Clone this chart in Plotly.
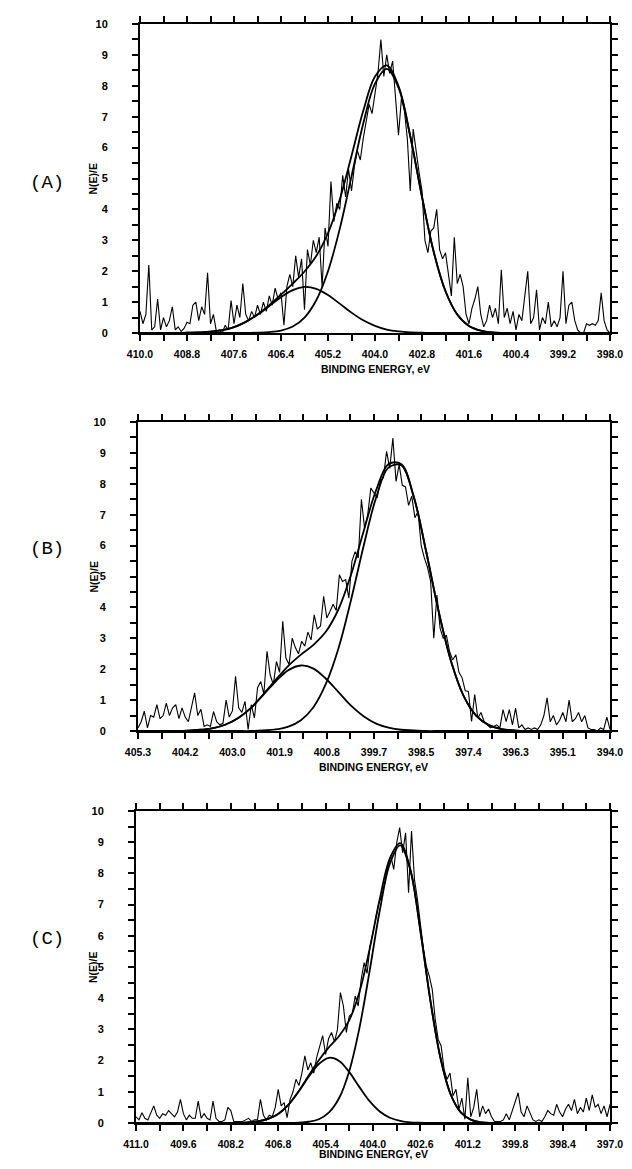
import numpy as np
import plotly.graph_objects as go

# ---------------- Panel A ----------------
a_start, a_end = 410.0, 398.0
a_tick_labels = ["410.0", "408.8", "407.6", "406.4", "405.2", "404.0", "402.8", "401.6", "400.4", "399.2", "398.0"]
a_counts = [
    0.7, 0.3, 0.6, 2.2, 0.1, 0.2, 1.1, 0.1, 0.5, 0.2,
    0.4, 0.85, 0.1, 0.2, 0.05, 0.15, 0.35, 0.3, 0.9, 1.0,
    0.4, 0.85, 0.6, 1.95, 0.3, 0.6, 0.05, 0.1, 0.0, 0.25,
    0.1, 1.05, 0.3, 0.9, 0.5, 1.6, 0.6, 0.4, 0.7, 0.5,
    0.9, 0.6, 1.0, 0.7, 1.2, 0.9, 1.45, 1.1, 1.3, 0.25,
    1.5, 1.9, 1.5, 2.5, 1.8, 2.4, 0.75, 2.7, 2.2, 3.0,
    2.6, 3.1, 1.5, 3.4, 2.8, 4.9, 3.6, 4.2, 4.0, 5.1,
    4.4, 5.3, 4.6, 5.4, 5.9, 5.6, 6.3, 6.9, 7.4, 7.1,
    7.8, 8.4, 9.5, 8.3, 9.0, 8.4, 8.8, 7.6, 6.4, 7.6,
    7.2, 6.3, 4.6, 6.6, 5.8, 5.2, 4.6, 3.0, 2.6, 3.3,
    3.4, 4.0, 2.7, 2.4, 2.6, 1.9, 1.2, 3.1, 1.6, 1.9,
    1.5, 0.6, 0.3, 0.8, 1.1, 1.5, 0.6, 0.2, 0.4, 0.9,
    0.5, 0.8, 0.3, 2.05, 0.5, 0.8, 0.3, 0.7, 0.1, 0.6,
    0.4, 1.2, 2.0, 0.3, 0.5, 1.4, 0.1, 0.5, 0.3, 1.0,
    0.2, 0.4, 0.2, 0.5, 2.0, 0.3, 0.9, 1.0, 0.4, 0.1,
    0.0, 0.0, 0.3, 0.25, 0.3, 0.25, 0.4, 1.3, 0.4, 0.1,
    0.0,
]
a_fit_x = [410.0, 409.7, 409.4, 409.1, 408.8, 408.5, 408.2, 407.9, 407.6, 407.3,
           407.0, 406.7, 406.4, 406.1, 405.8, 405.5, 405.2, 404.9, 404.6, 404.3,
           404.0, 403.7, 403.4, 403.1, 402.8, 402.5, 402.2, 401.9, 401.6, 401.3,
           401.0, 400.7, 400.4, 400.1, 399.8, 399.5, 399.2, 398.9, 398.6, 398.3, 398.0]
a_main = [0, 0, 0, 0, 0, 0, 0, 0, 0, 0,
          0.01, 0.03, 0.08, 0.21, 0.50, 1.06, 2.00, 3.37, 5.07, 6.78,
          8.07, 8.55, 7.94, 6.36, 4.40, 2.62, 1.35, 0.60, 0.23, 0.08,
          0.02, 0, 0, 0, 0, 0, 0, 0, 0, 0, 0]
a_small = [0, 0, 0, 0, 0.01, 0.02, 0.04, 0.09, 0.19, 0.36,
           0.59, 0.87, 1.16, 1.39, 1.49, 1.43, 1.23, 0.95, 0.66, 0.41,
           0.23, 0.11, 0.05, 0.02, 0.01, 0, 0, 0, 0, 0,
           0, 0, 0, 0, 0, 0, 0, 0, 0, 0, 0]
a_envelope = [0, 0, 0, 0, 0.01, 0.02, 0.04, 0.09, 0.19, 0.36,
              0.60, 0.90, 1.24, 1.60, 1.99, 2.49, 3.23, 4.32, 5.73, 7.19,
              8.30, 8.66, 7.99, 6.38, 4.41, 2.62, 1.35, 0.60, 0.23, 0.08,
              0.02, 0, 0, 0, 0, 0, 0, 0, 0, 0, 0]

# ---------------- Panel B ----------------
b_start, b_end = 405.3, 394.0
b_tick_labels = ["405.3", "404.2", "403.0", "401.9", "400.8", "399.7", "398.5", "397.4", "396.3", "395.1", "394.0"]
b_counts = [
    0.1, 0.3, 0.64, 0.1, 0.5, 0.45, 0.85, 0.4, 0.5, 0.9,
    0.5, 0.75, 0.85, 0.4, 0.75, 0.45, 0.3, 0.75, 1.23, 0.5,
    0.7, 0.15, 0.2, 0.15, 0.63, 0.3, 0.2, 0.25, 1.0, 0.45,
    0.65, 1.77, 0.75, 0.6, 0.96, 0.05, 0.85, 0.42, 1.4, 1.6,
    1.2, 2.58, 1.82, 1.5, 2.25, 1.9, 3.55, 2.36, 2.15, 3.0,
    2.7, 2.5, 2.9, 2.75, 3.2, 2.95, 3.76, 3.3, 3.4, 4.36,
    3.66, 3.87, 4.1, 3.9, 5.06, 4.84, 4.9, 4.3, 5.5, 5.8,
    5.6, 7.5, 6.57, 7.0, 7.86, 7.7, 7.54, 8.08, 8.2, 9.05,
    8.5, 9.48, 8.08, 8.62, 7.95, 7.9, 7.3, 7.6, 6.9, 7.1,
    6.0, 5.6, 5.3, 4.84, 3.0, 4.4, 3.33, 3.0, 3.1, 2.58,
    2.3, 2.47, 1.9, 1.72, 1.3, 1.28, 0.31, 1.18, 0.42, 0.6,
    0.3, 0.2, 0.1, 0.15, 0.2, 0.1, 0.69, 0.3, 0.69, 0.2,
    0.74, 0.1, 0.2, 0.05, 0.1, 0.05, 0.1, 0.05, 0.2, 0.5,
    1.07, 0.3, 0.5, 0.2, 0.35, 0.6, 0.3, 1.0, 0.3, 0.4,
    0.6, 0.3, 0.5, 0.1, 0.05, 0.05, 0.0, 0.1, 0.05, 0.45,
    0.05,
]
b_fit_x = [405.3, 405.0, 404.7, 404.4, 404.1, 403.8, 403.5, 403.2, 402.9, 402.6,
           402.3, 402.0, 401.7, 401.4, 401.1, 400.8, 400.5, 400.2, 399.9, 399.6,
           399.3, 399.0, 398.7, 398.4, 398.1, 397.8, 397.5, 397.2, 396.9, 396.6,
           396.3, 396.0, 395.7, 395.4, 395.1, 394.8, 394.5, 394.2, 394.0]
b_main = [0, 0, 0, 0, 0, 0, 0, 0, 0, 0,
          0.02, 0.05, 0.14, 0.35, 0.77, 1.53, 2.68, 4.24, 5.98, 7.55,
          8.53, 8.60, 7.58, 5.80, 3.86, 2.23, 1.12, 0.49, 0.19, 0.06,
          0.02, 0, 0, 0, 0, 0, 0, 0, 0]
b_small = [0, 0, 0, 0, 0.01, 0.04, 0.09, 0.21, 0.42, 0.74,
           1.17, 1.61, 1.97, 2.12, 2.02, 1.69, 1.26, 0.82, 0.48, 0.24,
           0.11, 0.04, 0.02, 0, 0, 0, 0, 0, 0, 0,
           0, 0, 0, 0, 0, 0, 0, 0, 0]
b_envelope = [0, 0, 0, 0, 0.01, 0.04, 0.09, 0.21, 0.42, 0.74,
              1.19, 1.66, 2.11, 2.47, 2.79, 3.22, 3.94, 5.06, 6.46, 7.79,
              8.64, 8.64, 7.60, 5.80, 3.86, 2.23, 1.12, 0.49, 0.19, 0.06,
              0.02, 0, 0, 0, 0, 0, 0, 0, 0]

# ---------------- Panel C ----------------
c_start, c_end = 411.0, 397.0
c_tick_labels = ["411.0", "409.6", "408.2", "406.8", "405.4", "404.0", "402.6", "401.2", "399.8", "398.4", "397.0"]
c_counts = [
    0.2, 0.1, 0.33, 0.15, 0.1, 0.3, 0.55, 0.25, 0.15, 0.3,
    0.25, 0.4, 0.3, 0.2, 0.35, 0.76, 0.3, 0.1, 0.25, 0.15,
    0.15, 0.7, 0.15, 0.3, 0.15, 0.1, 0.7, 0.15, 0.05, 0.05,
    0.1, 0.5, 0.4, 0.05, 0.05, 0.05, 0.05, 0.1, 0.15, 0.05,
    0.1, 0.1, 0.76, 0.25, 0.1, 0.25, 0.2, 0.5, 1.08, 0.55,
    0.65, 0.17, 0.75, 1.0, 1.4, 1.2, 1.6, 2.15, 1.7, 1.93,
    1.6, 2.1, 2.47, 2.8, 2.2, 2.7, 2.9, 2.6, 3.0, 4.18,
    3.75, 2.9, 3.43, 3.5, 4.07, 3.75, 4.6, 5.14, 4.8, 5.67,
    6.1, 6.63, 7.06, 7.28, 7.7, 8.24, 8.56, 8.13, 8.98, 9.47,
    8.66, 9.3, 7.38, 9.36, 7.8, 7.17, 6.4, 5.6, 5.03, 4.71,
    4.28, 3.32, 2.68, 2.47, 1.72, 1.4, 1.6, 0.87, 1.08, 0.44,
    0.8, 0.12, 1.45, 0.2, 0.5, 1.08, 0.2, 0.55, 0.3, 0.45,
    0.2, 0.05, 0.05, 0.05, 0.1, 0.3, 0.1, 0.4, 0.65, 0.97,
    0.35, 0.2, 0.55, 0.3, 0.1, 0.05, 0.1, 0.05, 0.2, 0.4,
    0.3, 0.25, 0.6, 0.35, 0.2, 0.45, 0.6, 0.4, 0.76, 0.3,
    0.5, 0.35, 0.8, 0.4, 0.9, 0.5, 0.6, 0.3, 0.55, 0.2,
    0.6,
]
c_fit_x = [411.0, 410.7, 410.4, 410.1, 409.8, 409.5, 409.2, 408.9, 408.6, 408.3,
           408.0, 407.7, 407.4, 407.1, 406.8, 406.5, 406.2, 405.9, 405.6, 405.3,
           405.0, 404.7, 404.4, 404.1, 403.8, 403.5, 403.2, 402.9, 402.6, 402.3,
           402.0, 401.7, 401.4, 401.1, 400.8, 400.5, 400.2, 399.9, 399.6, 399.3,
           399.0, 398.7, 398.4, 398.1, 397.8, 397.5, 397.2, 397.0]
c_main = [0, 0, 0, 0, 0, 0, 0, 0, 0, 0,
          0, 0, 0, 0, 0, 0, 0.01, 0.04, 0.12, 0.34,
          0.80, 1.67, 3.05, 4.87, 6.81, 8.32, 8.90, 8.12, 6.16, 3.89,
          2.05, 0.90, 0.33, 0.10, 0.02, 0, 0, 0, 0, 0,
          0, 0, 0, 0, 0, 0, 0, 0]
c_small = [0, 0, 0, 0, 0, 0, 0, 0, 0, 0,
           0, 0.02, 0.05, 0.13, 0.29, 0.58, 1.00, 1.48, 1.89, 2.09,
           1.99, 1.63, 1.15, 0.70, 0.37, 0.17, 0.07, 0.02, 0.01, 0,
           0, 0, 0, 0, 0, 0, 0, 0, 0, 0,
           0, 0, 0, 0, 0, 0, 0, 0]
c_envelope = [0, 0, 0, 0, 0, 0, 0, 0, 0, 0,
              0, 0.02, 0.05, 0.13, 0.29, 0.58, 1.01, 1.52, 2.01, 2.43,
              2.79, 3.30, 4.20, 5.57, 7.18, 8.49, 8.97, 8.14, 6.17, 3.89,
              2.05, 0.90, 0.33, 0.10, 0.02, 0, 0, 0, 0, 0,
              0, 0, 0, 0, 0, 0, 0, 0]

y_tick_labels = ["0", "1", "2", "3", "4", "5", "6", "7", "8", "9", "10"]
x_title = "BINDING ENERGY, eV"
y_title = "N(E)/E"
panel_names = ["(A)", "(B)", "(C)"]

# ---------------- Layout geometry (page pixels) ----------------
OFF = 8                                  # page body margin around the figure
W, H = 632 - 2 * OFF, 1169 - 2 * OFF     # fits the window: no scrollbars
panels = [
    dict(start=a_start, end=a_end, labels=a_tick_labels, counts=a_counts,
         fx=a_fit_x, comps=[a_main, a_small, a_envelope],
         left=140, right=610, top=24, bottom=333, label_y=183, title_dy=36),
    dict(start=b_start, end=b_end, labels=b_tick_labels, counts=b_counts,
         fx=b_fit_x, comps=[b_main, b_small, b_envelope],
         left=138, right=610, top=422, bottom=731, label_y=549, title_dy=36),
    dict(start=c_start, end=c_end, labels=c_tick_labels, counts=c_counts,
         fx=c_fit_x, comps=[c_main, c_small, c_envelope],
         left=136, right=610, top=811, bottom=1123, label_y=939, title_dy=31),
]


def px(v):
    return (v - OFF) / W


def py(v):
    return 1 - (v - OFF) / H


XFONT = dict(family="Liberation Sans Narrow, Liberation Sans, sans-serif",
             size=10.5, color="black", weight="bold")
YFONT = dict(family="Liberation Sans Narrow, Liberation Sans, sans-serif",
             size=11, color="black", weight="bold")

fig = go.Figure()
layout = dict(width=W, height=H, template="none",
              margin=dict(l=0, r=0, t=0, b=0, pad=0, autoexpand=False),
              paper_bgcolor="white", plot_bgcolor="white", showlegend=False)
annotations = []

for k, p in enumerate(panels):
    n = k + 1
    xa = "x" if n == 1 else f"x{n}"
    ya = "y" if n == 1 else f"y{n}"
    xkey = "xaxis" if n == 1 else f"xaxis{n}"
    ykey = "yaxis" if n == 1 else f"yaxis{n}"

    xs = np.linspace(p["start"], p["end"], len(p["counts"]))
    fig.add_trace(go.Scatter(x=xs, y=p["counts"], mode="lines", xaxis=xa, yaxis=ya,
                             line=dict(color="black", width=1.1)))
    for comp in p["comps"]:
        fig.add_trace(go.Scatter(x=p["fx"], y=comp, mode="lines", xaxis=xa, yaxis=ya,
                                 line=dict(color="black", width=1.8, shape="spline", smoothing=1.0)))

    major = np.linspace(p["start"], p["end"], len(p["labels"]))
    tv, tt = [], []
    for i, v in enumerate(major):
        tv.append(v); tt.append(p["labels"][i])
        if i < len(major) - 1:
            tv.append((v + major[i + 1]) / 2); tt.append("")

    layout[xkey] = dict(domain=[px(p["left"]), px(p["right"])], anchor=ya,
                        range=[p["start"], p["end"]], tickmode="array",
                        tickvals=tv, ticktext=tt, ticks="outside", ticklen=6,
                        tickwidth=2, tickcolor="black", showline=True, linewidth=2,
                        linecolor="black", mirror="ticks", showgrid=False,
                        zeroline=False, tickfont=XFONT, ticklabelstandoff=4,
                        ticklabeloverflow="allow", automargin=False)
    yv = [i * 0.5 for i in range(21)]
    yt = [y_tick_labels[i // 2] if i % 2 == 0 else "" for i in range(21)]
    layout[ykey] = dict(domain=[py(p["bottom"]), py(p["top"])], anchor=xa,
                        range=[0, 10], tickmode="array", tickvals=yv, ticktext=yt,
                        ticks="outside", ticklen=6, tickwidth=2, tickcolor="black",
                        showline=True, linewidth=2, linecolor="black", mirror="ticks",
                        showgrid=False, zeroline=False, tickfont=YFONT,
                        ticklabelstandoff=22, ticklabeloverflow="allow",
                        automargin=False)

    annotations.append(dict(text=x_title, xref="paper", yref="paper",
                            x=px((p["left"] + p["right"]) / 2),
                            y=py(p["bottom"] + p["title_dy"]), showarrow=False,
                            xanchor="center", yanchor="middle", font=XFONT))
    annotations.append(dict(text=y_title, xref="paper", yref="paper",
                            x=px(93), y=py((p["top"] + p["bottom"]) / 2),
                            textangle=-90, showarrow=False, xanchor="center",
                            yanchor="middle", font=XFONT))
    annotations.append(dict(text=panel_names[k], xref="paper", yref="paper",
                            x=px(47), y=py(p["label_y"]), showarrow=False,
                            xanchor="center", yanchor="middle",
                            font=dict(family="Liberation Mono, DejaVu Sans Mono, monospace",
                                      size=19, color="black")))

layout["annotations"] = annotations
fig.update_layout(**layout)
fig.write_html("out.html")
